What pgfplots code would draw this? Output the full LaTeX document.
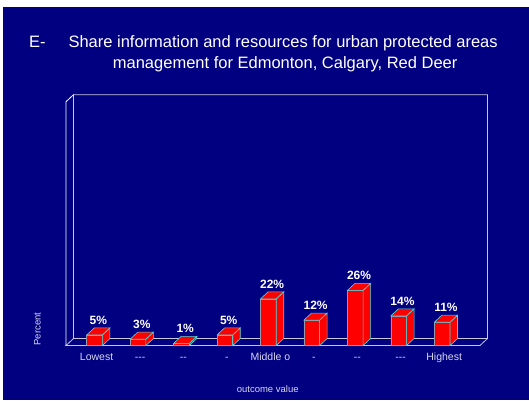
\documentclass[border=0pt]{standalone}
\usepackage{pgfplots}
\pgfplotsset{compat=1.18}
\usepackage{fontspec}
\setmainfont{Liberation Sans}[Ligatures=TeXOff]
\definecolor{navybg}{RGB}{0,0,128}
\definecolor{edgecyan}{RGB}{64,224,224}
\definecolor{framegray}{RGB}{200,200,220}
\definecolor{ticktext}{RGB}{215,215,240}
\definecolor{faceedge}{RGB}{150,150,170}
\pgfdeclareplotmark{bar3d}{%
  \pgfsetlinewidth{0.6pt}%
  \pgfsetfillcolor{red}\pgfsetstrokecolor{edgecyan}%
  \pgfpathmoveto{\pgfpoint{7.85pt}{0pt}}%
  \pgfpathlineto{\pgfpoint{15.35pt}{7pt}}%
  \pgfpathlineto{\pgfpoint{15.35pt}{7pt-\rawy*2.12pt}}%
  \pgfpathlineto{\pgfpoint{7.85pt}{-\rawy*2.12pt}}%
  \pgfpathclose
  \pgfusepath{fill,stroke}%
  \pgfpathmoveto{\pgfpoint{-7.85pt}{0pt}}%
  \pgfpathlineto{\pgfpoint{7.85pt}{0pt}}%
  \pgfpathlineto{\pgfpoint{15.35pt}{7pt}}%
  \pgfpathlineto{\pgfpoint{-0.35pt}{7pt}}%
  \pgfpathclose
  \pgfusepath{fill,stroke}%
}
\begin{document}
\begin{tikzpicture}[x=1pt,y=1pt]
\path[use as bounding box] (0,0) rectangle (529,400);
\fill[white] (0,0) rectangle (529,400);
\fill[navybg] (3,0) rectangle (529,393);
% title
\node[anchor=base west, text=white, font=\fontsize{16.5}{16.5}\selectfont, inner sep=0pt] at (29,352.3) {E-};
\node[anchor=base west, text=white, font=\fontsize{16.5}{16.5}\selectfont, inner sep=0pt] at (68.3,352.3) {Share information and resources for urban protected areas};
\node[anchor=base west, text=white, font=\fontsize{16.5}{16.5}\selectfont, inner sep=0pt] at (112.7,332) {management for Edmonton, Calgary, Red Deer};
\node[rotate=90, text=ticktext, font=\fontsize{9.5}{9.5}\selectfont, inner sep=0pt] at (37.5,71) {Percent};
\node[anchor=base, text=ticktext, font=\fontsize{9.5}{9.5}\selectfont, inner sep=0pt] at (267.7,7.3) {outcome value};
\begin{axis}[
  at={(66pt,54.5pt)}, anchor=south west,
  x=43.45pt, y=2.12pt,
  xmin=-0.658, xmax=8.87, ymin=0, ymax=115,
  clip=false,
  axis line style={draw=none},
  tick style={draw=none},
  ytick=\empty,
  xtick={0,1,2,3,4,5,6,7,8},
  xticklabels={Lowest,---,--,-,Middle o,-,--,---,Highest},
  xticklabel style={text=ticktext, font=\fontsize{10.5}{10.5}\selectfont, xshift=2pt, yshift=-4pt, text height=7.6pt, text depth=2.2pt},
  /pgf/number format/assume math mode=true,
]
% frame
\draw[framegray, line width=0.8pt]
  ([shift={(7.5pt,7pt)}]rel axis cs:0,0) -- ([shift={(7.5pt,7pt)}]rel axis cs:0,1)
  -- ([shift={(7.5pt,7pt)}]rel axis cs:1,1) -- ([shift={(7.5pt,7pt)}]rel axis cs:1,0)
  -- ([shift={(7.5pt,7pt)}]rel axis cs:0,0) -- (rel axis cs:0,0) -- (rel axis cs:1,0)
  -- ([shift={(7.5pt,7pt)}]rel axis cs:1,0);
\draw[white, line width=0.8pt] (rel axis cs:0,0) -- (rel axis cs:0,1) -- ([shift={(7.5pt,7pt)}]rel axis cs:0,1);
\addplot[ybar, bar width=15.7pt, fill=red, draw=faceedge, line width=0.6pt,
  nodes near coords={\pgfmathprintnumber{\pgfplotspointmeta}\%},
  every node near coord/.append style={text=white, font=\bfseries\fontsize{12}{12}\selectfont, xshift=3.75pt, yshift=9pt, inner sep=1pt}]
  coordinates {(0,5) (1,3) (2,1) (3,5) (4,22) (5,12) (6,26) (7,14) (8,11)};
\addplot[only marks, mark=bar3d, visualization depends on={rawy \as \rawy}]
  coordinates {(0,5) (1,3) (2,1) (3,5) (4,22) (5,12) (6,26) (7,14) (8,11)};
\end{axis}
\end{tikzpicture}
\end{document}
